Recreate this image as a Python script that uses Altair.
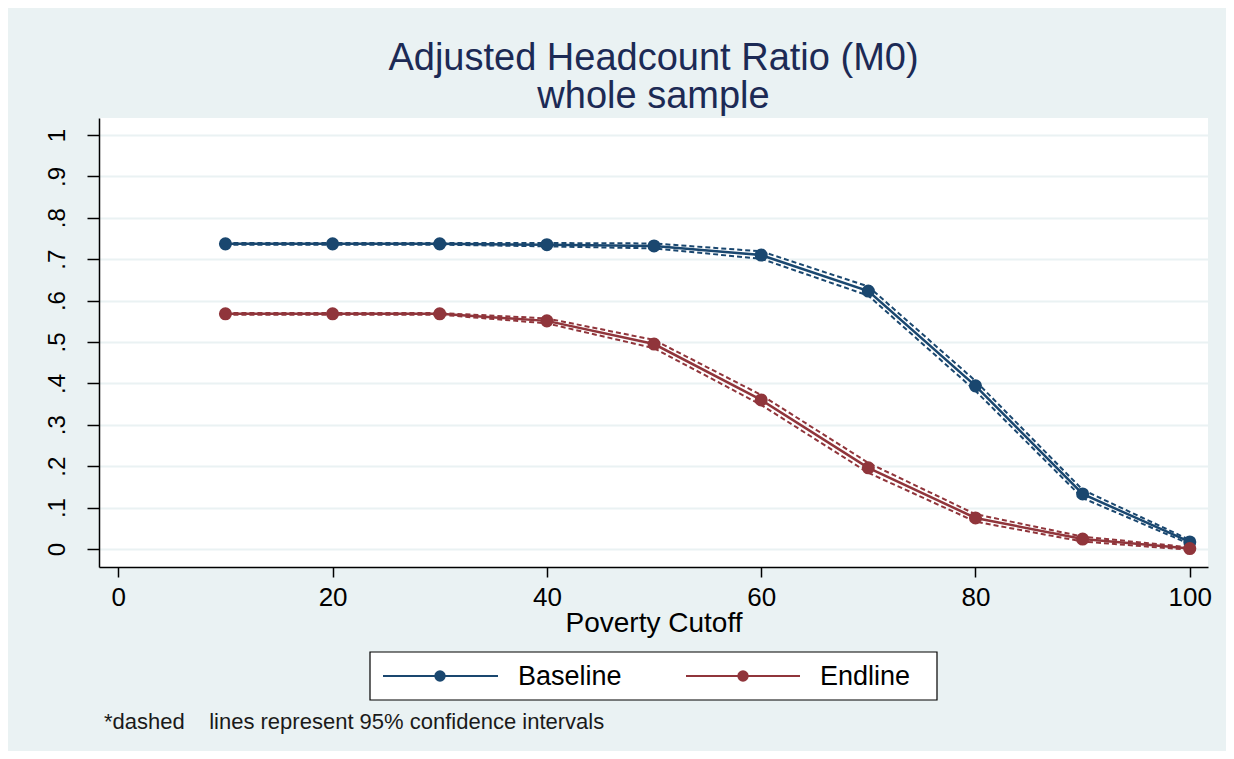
import altair as alt
import pandas as pd

# ---- data ----
cutoff = [10, 20, 30, 40, 50, 60, 70, 80, 90, 100]
series_names = ["Baseline", "Endline"]
series_colors = ["#1a476f", "#90353b"]

baseline_m0 = [0.737, 0.737, 0.737, 0.735, 0.732, 0.710, 0.623, 0.394, 0.133, 0.017]
baseline_lo = [0.735, 0.735, 0.735, 0.731, 0.726, 0.701, 0.612, 0.382, 0.123, 0.012]
baseline_hi = [0.739, 0.739, 0.739, 0.739, 0.738, 0.719, 0.634, 0.406, 0.143, 0.022]

endline_m0 = [0.568, 0.568, 0.568, 0.551, 0.495, 0.360, 0.196, 0.075, 0.024, 0.001]
endline_lo = [0.566, 0.566, 0.566, 0.545, 0.485, 0.348, 0.184, 0.066, 0.018, -0.002]
endline_hi = [0.570, 0.570, 0.570, 0.557, 0.505, 0.372, 0.208, 0.084, 0.030, 0.004]

x_ticks = [0, 20, 40, 60, 80, 100]
y_ticks = [0, 0.1, 0.2, 0.3, 0.4, 0.5, 0.6, 0.7, 0.8, 0.9, 1.0]

title_lines = ["Adjusted Headcount Ratio (M0)", "whole sample"]
x_title = "Poverty Cutoff"
note_text = "*dashed\u00a0\u00a0\u00a0 lines represent 95% confidence intervals"

rows = []
for name, m, lo, hi in [("Baseline", baseline_m0, baseline_lo, baseline_hi),
                        ("Endline", endline_m0, endline_lo, endline_hi)]:
    for c, v, l, h in zip(cutoff, m, lo, hi):
        rows.append({"series": name, "cutoff": c, "m0": v, "lo": l, "hi": h})
df = pd.DataFrame(rows)

FONT = "Liberation Sans"
W, H = 1109, 449

xscale = alt.Scale(domain=[-1.8, 101.7], nice=False, zero=False)
yscale = alt.Scale(domain=[-0.0435, 1.041], nice=False, zero=False)

xaxis = alt.Axis(values=x_ticks, title=x_title, grid=False, format="d",
                 tickSize=10, tickWidth=1.5, tickColor="#000000",
                 domainColor="#000000", domainWidth=1.5,
                 labelFontSize=26, labelFont=FONT, labelColor="#000000",
                 labelPadding=7, titleFontSize=28, titleFont=FONT,
                 titleFontWeight="normal", titleColor="#000000", titlePadding=-1)
yaxis = alt.Axis(values=y_ticks, title=None, grid=True, gridColor="#eaf2f3",
                 gridWidth=2, tickSize=12, tickWidth=1.5, tickColor="#000000",
                 domainColor="#000000", domainWidth=1.5,
                 labelAngle=270, labelAlign="center", labelBaseline="alphabetic",
                 labelFontSize=24, labelFont=FONT, labelColor="#000000",
                 labelPadding=23,
                 labelExpr="datum.value == 0 ? '0' : (datum.value == 1 ? '1' : replace(format(datum.value, '.1f'), '0.', '.'))")

color = alt.Color("series:N", scale=alt.Scale(domain=series_names, range=series_colors), legend=None)

base = alt.Chart(df)
X = alt.X("cutoff:Q", scale=xscale, axis=xaxis)

solid = base.mark_line(strokeWidth=2.5).encode(
    x=X, y=alt.Y("m0:Q", scale=yscale, axis=yaxis), color=color)
lo_line = base.mark_line(strokeWidth=2, strokeDash=[5, 3]).encode(
    x=X, y=alt.Y("lo:Q", scale=yscale, axis=yaxis), color=color, detail="series:N")
hi_line = base.mark_line(strokeWidth=2, strokeDash=[5, 3]).encode(
    x=X, y=alt.Y("hi:Q", scale=yscale, axis=yaxis), color=color, detail="series:N")
points = base.mark_point(filled=True, shape="circle", size=170, opacity=1).encode(
    x=X, y=alt.Y("m0:Q", scale=yscale, axis=yaxis), color=color)

# ---- legend (drawn below plot) ----
one = alt.Chart(pd.DataFrame({"a": [0]}))
legend_box = one.mark_rect(fill="white", stroke="#000000", strokeWidth=1.2).encode(
    x=alt.value(271), x2=alt.value(838), y=alt.value(534), y2=alt.value(582))

legend_layers = [legend_box]
for name, col, x0, x1, xm, xt in [("Baseline", series_colors[0], 284, 399, 341, 419),
                                   ("Endline", series_colors[1], 587, 701, 644, 721)]:
    legend_layers.append(one.mark_rule(color=col, strokeWidth=2).encode(
        x=alt.value(x0), x2=alt.value(x1), y=alt.value(558)))
    legend_layers.append(one.mark_point(filled=True, shape="circle", size=130, color=col, opacity=1).encode(
        x=alt.value(xm), y=alt.value(558)))
    legend_layers.append(one.mark_text(text=name, align="left", baseline="middle", font=FONT,
                                       fontSize=27, color="#000000").encode(
        x=alt.value(xt), y=alt.value(559)))

note = one.mark_text(text=note_text, align="left", baseline="middle", font=FONT,
                     fontSize=22, color="#1a1a1a").encode(x=alt.value(5), y=alt.value(604))

chart = alt.layer(solid, lo_line, hi_line, points, *legend_layers, note).properties(
    width=W, height=H,
    title=alt.TitleParams(text=title_lines, anchor="middle", font=FONT, fontSize=38,
                          fontWeight="normal", color="#1c2a55", lineHeight=38, offset=2),
    padding={"left": 91, "top": 110, "right": 18, "bottom": 184},
    autosize=alt.AutoSizeParams(type="none"),
).configure(background="#eaf2f3").configure_view(stroke=None, fill="white")

chart.save("out.html", embed_options={"renderer": "svg", "actions": False})
